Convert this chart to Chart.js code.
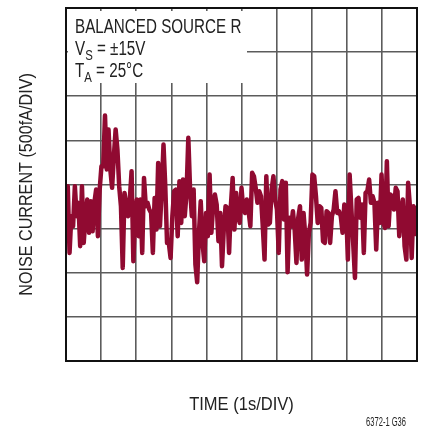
<!DOCTYPE html>
<html>
<head>
<meta charset="utf-8">
<script src="https://cdn.jsdelivr.net/npm/chart.js@4/dist/chart.umd.min.js"></script>
<style>
  html, body { margin: 0; padding: 0; background: #fff; }
  canvas { display: block; }
</style>
</head>
<body>
<canvas id="noiseChart" width="428" height="429"></canvas>
<script>
// Noise current trace, fA (500fA/DIV, 0 at centre line)
const noiseCurrent = [
  -435, -19, -775, -359, -473, -19, -359, -208, -700, -19, -662, -359, -170, -548, -189, -530,
  -208, -57, -586, -57, 208, 208, 782, 170, 623, 170, -38, 321, 623, 397, -19, -246,
  -945, -95, -227, -359, -170, 151, -870, -359, -170, -586, -170, -775, 75, -246, -208, -284,
  -322, -775, -152, -511, 245, -473, -57, 453, -19, -662,
  -662, -832, -359, -76, -57, -586, 38, -435, 56, -359, -95, 529, -57, -359, -57, -908,
  -1108, -548, -189, -662, -870, -322, -586, 113, -548, -246, -114, -227, -643, -322, -926, -511,
  -246, -265, -775, -246, 75, -511, -95, -359, -435, -38, -284, -322, -170, -303, -473, 132,
  94, -38, -208, -76, -133, -473, -851, 94, -454, -435, -57, 94, -170,
  -284, -775, -57, 38, -397, 19, -994, -378, -473, -303, -511, -889, -378, -246, -851, -322,
  -586, -1021, -548, -435, 113, 94, -133, -435, -246, -265, -643, -662, -303, -322, -662, -359,
  -284, -76, -322, -303, -359, -548, -227, -246, -851, 113, -284, -662, -1059, -170, -152, -378,
  -227, -775, -95, -76, 56, -208, -133, -208, -737, -208, -435, 113, -435, -492, 264, -473,
  -114, -133, -284, -38, -76, -586, -284, -170, -700, -851, 19, -246, -832, -246, -284, -586
];

const timeDivs = 10;          // 1s/DIV
const currentMin = -2000;     // fA
const currentMax = 2000;
const currentStep = 500;

const titleLines = ['BALANCED SOURCE R', ['V', 'S', ' = \u00B115V'], ['T', 'A', ' = 25\u00B0C']];
const yTitle = 'NOISE CURRENT (500fA/DIV)';
const xTitle = 'TIME (1s/DIV)';
const figCode = '6372-1 G36';

const traceColor = '#900a31';
const FONT = '"Liberation Sans", Arial, sans-serif';

const points = noiseCurrent.map((v, i) => ({ x: i * timeDivs / (noiseCurrent.length - 1), y: v }));

// draw condensed text (no narrow font installed, so squeeze horizontally)
function narrowText(ctx, text, x, y, squeeze) {
  ctx.save();
  ctx.translate(x, y);
  ctx.scale(squeeze, 1);
  ctx.fillText(text, 0, 0);
  const w = ctx.measureText(text).width * squeeze;
  ctx.restore();
  return w;
}

const decorPlugin = {
  id: 'decor',
  beforeDatasetsDraw(chart) {
    const { ctx, chartArea: a } = chart;
    // white label box over the grid
    ctx.save();
    ctx.fillStyle = '#fff';
    ctx.fillRect(a.left + 2, a.top + 3, 247 - a.left - 2, 83 - a.top - 3);
    ctx.restore();
  },
  afterDraw(chart) {
    const { ctx, chartArea: a } = chart;
    ctx.save();
    // frame
    ctx.strokeStyle = '#111';
    ctx.lineWidth = 2;
    ctx.strokeRect(a.left, a.top, a.right - a.left, a.bottom - a.top);

    ctx.fillStyle = '#222';
    ctx.textBaseline = 'alphabetic';
    ctx.textAlign = 'left';
    const sq = 0.76;
    const big = '20px ' + FONT;
    const sub = '15px ' + FONT;
    let y = 33;
    titleLines.forEach(line => {
      const x0 = 75;
      if (typeof line === 'string') {
        ctx.font = big;
        narrowText(ctx, line, x0, y, sq);
      } else {
        ctx.font = big;
        let x = x0 + narrowText(ctx, line[0], x0, y, sq);
        ctx.font = sub;
        x += narrowText(ctx, line[1], x, y + 5, sq);
        ctx.font = big;
        narrowText(ctx, line[2], x, y, sq);
      }
      y += 22;
    });

    // axis titles
    ctx.font = '19px ' + FONT;
    ctx.textAlign = 'center';
    ctx.textBaseline = 'middle';
    narrowText(ctx, xTitle, (a.left + a.right) / 2, 405, 0.87);
    ctx.save();
    ctx.translate(27, (a.top + a.bottom) / 2);
    ctx.rotate(-Math.PI / 2);
    narrowText(ctx, yTitle, 0, 0, 0.85);
    ctx.restore();

    ctx.font = '12px ' + FONT;
    ctx.textAlign = 'right';
    narrowText(ctx, figCode, 406, 423, 0.63);
    ctx.restore();
  }
};

new Chart(document.getElementById('noiseChart'), {
  type: 'line',
  data: {
    datasets: [{
      data: points,
      borderColor: traceColor,
      borderWidth: 4.5,
      borderJoinStyle: 'round',
      pointRadius: 0,
      tension: 0,
      fill: false
    }]
  },
  options: {
    responsive: false,
    animation: false,
    layout: { padding: { left: 66, top: 8, right: 11, bottom: 68 } },
    plugins: { legend: { display: false }, tooltip: { enabled: false } },
    scales: {
      x: {
        type: 'linear',
        min: 0, max: timeDivs,
        ticks: { display: false, stepSize: 1 },
        grid: { color: '#5c5c5c', lineWidth: 1.6, drawTicks: false },
        border: { display: false }
      },
      y: {
        min: currentMin, max: currentMax,
        ticks: { display: false, stepSize: currentStep },
        grid: { color: '#5c5c5c', lineWidth: 1.6, drawTicks: false },
        border: { display: false }
      }
    }
  },
  plugins: [decorPlugin]
});
</script>
</body>
</html>
